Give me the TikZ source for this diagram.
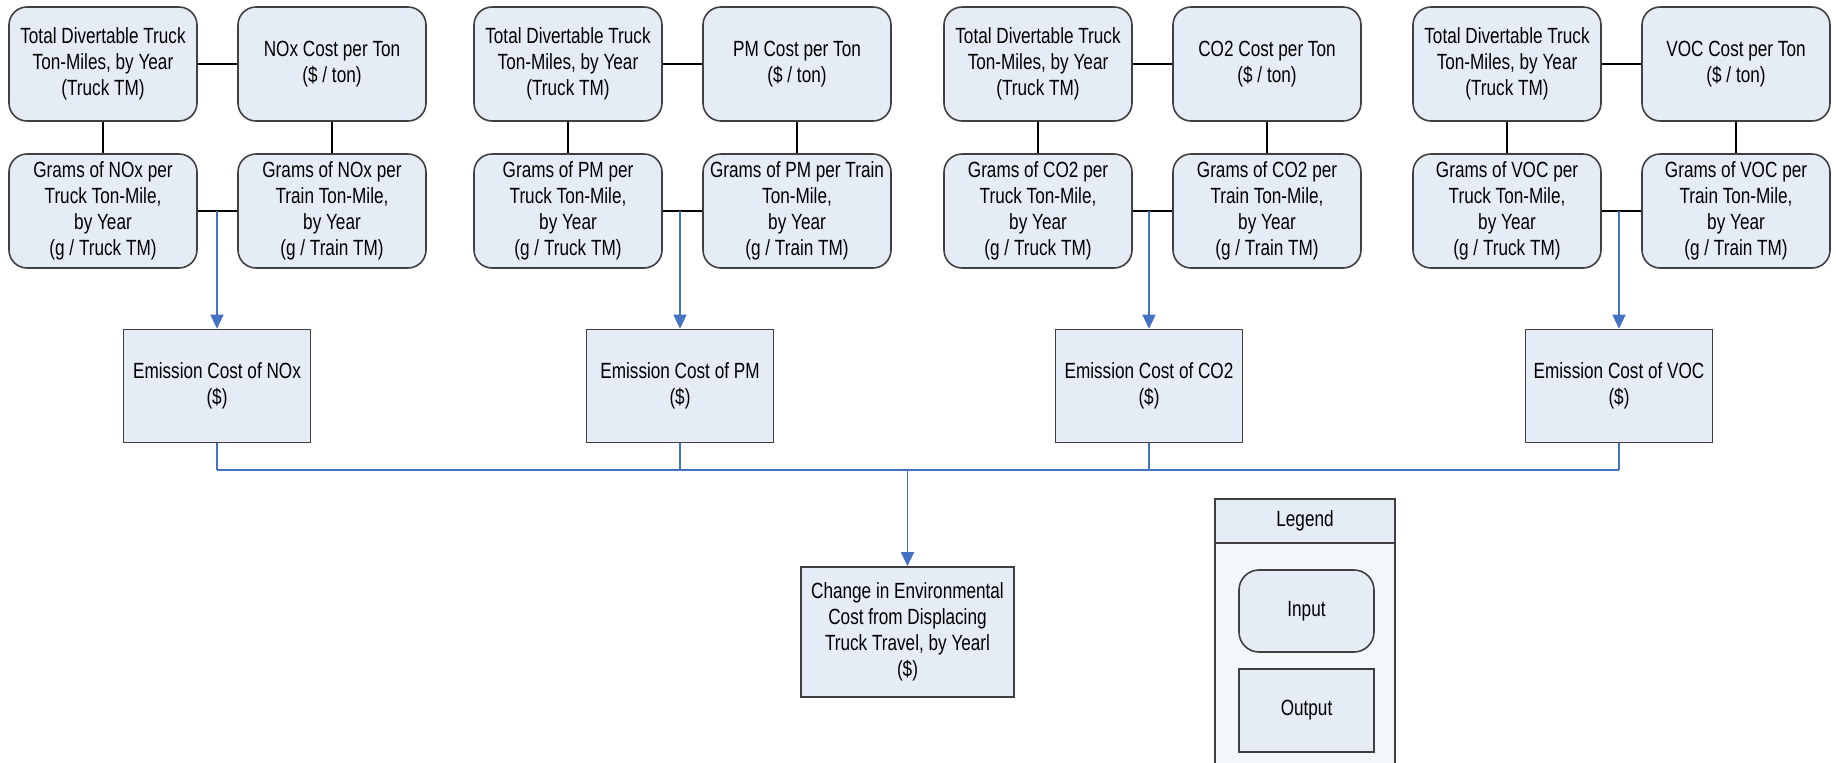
\documentclass[tikz,border=0pt]{standalone}
\usepackage{fontspec}
\setmainfont{Liberation Sans}[FakeStretch=0.78]
\usetikzlibrary{arrows.meta}
\definecolor{boxfill}{HTML}{E6ECF6}
\definecolor{legfill}{HTML}{F3F6FA}
\definecolor{boxline}{HTML}{404040}
\definecolor{conblue}{HTML}{4472C4}
\begin{document}
\begin{tikzpicture}[x=0.5pt,y=-0.5pt,
  every node/.style={font=\fontsize{11}{13}\selectfont, align=center, inner sep=0pt},
  inbox/.style={draw=boxline, fill=boxfill, line width=0.8pt, rounded corners=9pt, minimum width=94pt, minimum height=57pt},
  outbox/.style={draw=boxline, fill=boxfill, line width=0.8pt, minimum width=93.5pt, minimum height=56.5pt},
  blk/.style={line width=1pt, black},
  blkthin/.style={line width=0.7pt, black},
  blu/.style={line width=0.6pt, conblue},
  arr/.style={blu, -{Triangle[width=6.5pt,length=7pt]}}]
\useasboundingbox (0,0) rectangle (1836,762);
\foreach \L/\E/\p/\i/\tr in {9/217/NOx/1/{Grams of NOx per\\Train Ton-Mile,},
                         474/680/PM/2/{Grams of PM per Train\\Ton-Mile,},
                         944/1149/CO2/3/{Grams of CO2 per\\Train Ton-Mile,},
                         1413/1619/VOC/4/{Grams of VOC per\\Train Ton-Mile,}} {
  \node[inbox] (tdt\i) at (\L+94,64) {Total Divertable Truck\\Ton-Miles, by Year\\(Truck TM)};
  \node[inbox] (cpt\i) at (\L+323,64) {\p\ Cost per Ton\\(\$ / ton)};
  \node[inbox] (gtk\i) at (\L+94,211) {Grams of \p\ per\\Truck Ton-Mile,\\by Year\\(g / Truck TM)};
  \node[inbox] (gtn\i) at (\L+323,211) {\tr\\by Year\\(g / Train TM)};
  \node[outbox] (em\i) at (\E,386) {Emission Cost of \p\\(\$)};
  \coordinate (j\i) at (\E,211);
  \coordinate (b\i) at (\E,470);
  \draw[blk] (tdt\i) -- (cpt\i);
  \draw[blk] (tdt\i) -- (gtk\i);
  \draw[blk] (cpt\i) -- (gtn\i);
  \draw[blkthin] (gtk\i) -- (gtn\i);
  \draw[arr] (j\i) -- (em\i);
  \draw[blu] (em\i) -- (b\i);
}
\node[outbox, minimum width=106.5pt, minimum height=65pt] (final) at (907.5,632)
  {Change in Environmental\\Cost from Displacing\\Truck Travel, by Yearl\\(\$)};
\coordinate (bc) at (907.5,470);
\draw[blu] (b1) -- (b4);
\draw[arr] (bc) -- (final);
% legend
\fill[legfill] (1215,499) rectangle (1395,770);
\draw[boxline, line width=0.8pt] (1215,770) -- (1215,499) -- (1395,499) -- (1395,770);
\node[draw=boxline, fill=boxfill, line width=0.8pt, minimum width=90pt, minimum height=22pt] (leghead) at (1305,521) {Legend};
\node[inbox, rounded corners=10pt, minimum width=67.5pt, minimum height=41pt] (legin) at (1306.5,611) {Input};
\node[outbox, minimum width=67.5pt, minimum height=41.5pt] (legout) at (1306.5,710.5) {Output};
\end{tikzpicture}
\end{document}
